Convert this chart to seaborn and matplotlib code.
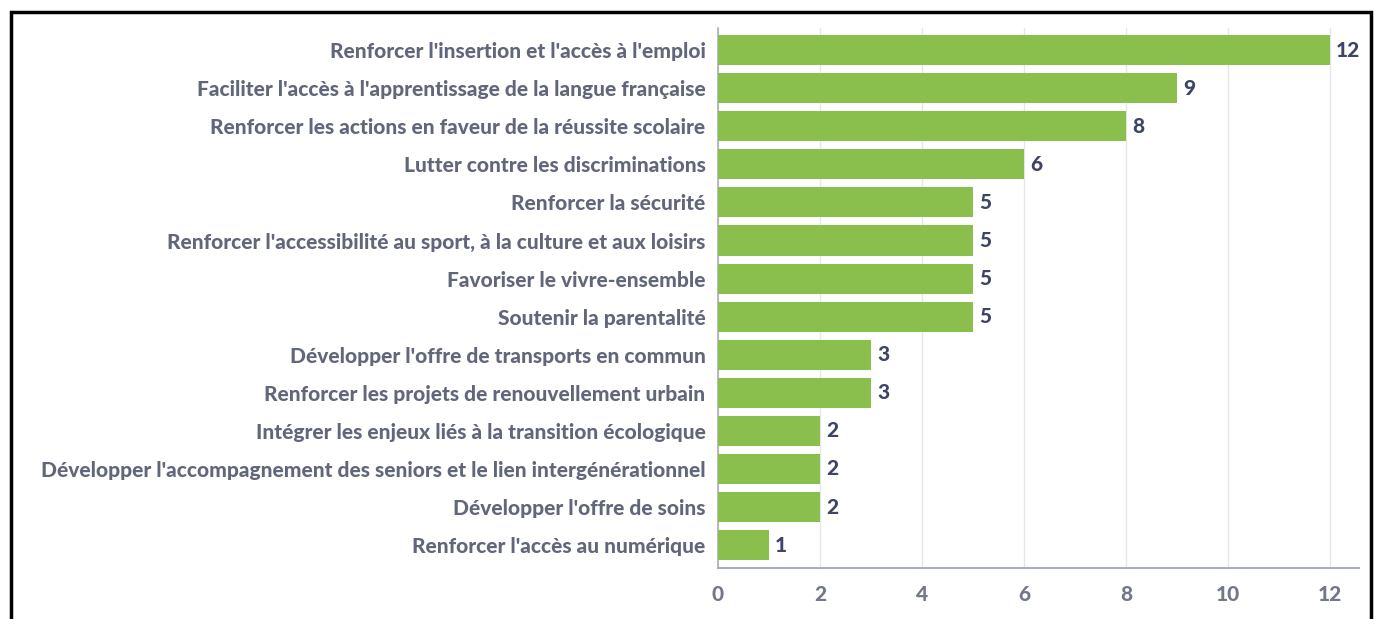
import matplotlib
matplotlib.use("Agg")
import matplotlib.pyplot as plt
import seaborn as sns
import pandas as pd
from matplotlib.patches import Rectangle

categories = [
    "Renforcer l'insertion et l'accès à l'emploi",
    "Faciliter l'accès à l'apprentissage de la langue française",
    "Renforcer les actions en faveur de la réussite scolaire",
    "Lutter contre les discriminations",
    "Renforcer la sécurité",
    "Renforcer l'accessibilité au sport, à la culture et aux loisirs",
    "Favoriser le vivre-ensemble",
    "Soutenir la parentalité",
    "Développer l'offre de transports en commun",
    "Renforcer les projets de renouvellement urbain",
    "Intégrer les enjeux liés à la transition écologique",
    "Développer l'accompagnement des seniors et le lien intergénérationnel",
    "Développer l'offre de soins",
    "Renforcer l'accès au numérique",
]
values = [12, 9, 8, 6, 5, 5, 5, 5, 3, 3, 2, 2, 2, 1]
xticks = [0, 2, 4, 6, 8, 10, 12]

df = pd.DataFrame({"cat": categories, "val": values})

sns.set_theme(style="white")
plt.rcParams['font.family'] = ['Lato', 'DejaVu Sans']

fig = plt.figure(figsize=(13.76, 6.19), dpi=100)
ax = fig.add_axes([718/1376, 1 - 568/619, (1359-718)/1376, (568-28)/619])

sns.barplot(data=df, x="val", y="cat", orient="h", color="#8bbf4d",
            saturation=1, width=0.79, ax=ax, zorder=3, linewidth=0)

ax.set_xlim(0, 12.57)
ax.set_ylim(13.6, -0.58)
ax.set_xticks(xticks)
ax.set_xticklabels([str(t) for t in xticks], fontsize=15, fontweight="black", color="#737888")
ax.tick_params(axis="x", length=0, pad=12)
ax.tick_params(axis="y", length=0, pad=9)
for lab in ax.get_yticklabels():
    lab.set_fontsize(15.0)
    lab.set_fontweight("black")
    lab.set_color("#62667a")
ax.set_xlabel("")
ax.set_ylabel("")

ax.grid(axis="x", color="#e6e6ea", linewidth=1, zorder=0)
ax.grid(axis="y", visible=False)
for s in ["top", "right"]:
    ax.spines[s].set_visible(False)
ax.spines["left"].set_color("#a8aebb")
ax.spines["left"].set_linewidth(1.2)
ax.spines["bottom"].set_color("#a8aebb")
ax.spines["bottom"].set_linewidth(1.5)

for i, v in enumerate(values):
    ax.text(v + 0.12, i, str(v), va="center", ha="left", fontsize=15,
            fontweight="black", color="#3d4468")

fig.patches.append(Rectangle((11/1376, -0.1), (1371-11)/1376, 1.1 - 12/619,
                             transform=fig.transFigure, fill=False,
                             edgecolor="black", linewidth=2.5))

fig.savefig("out.png", dpi=100, facecolor="white")
